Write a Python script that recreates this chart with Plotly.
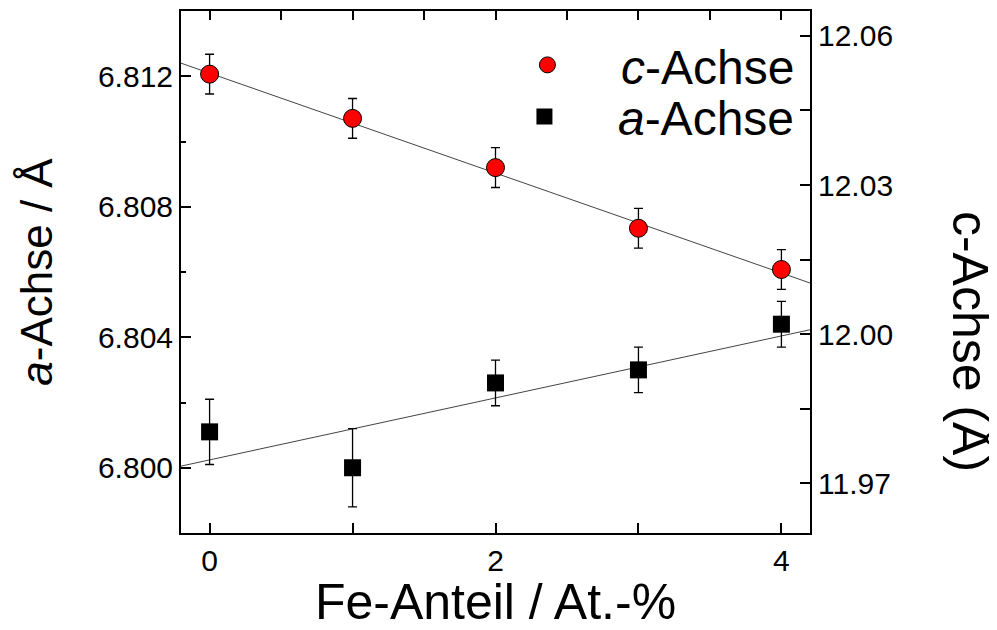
import plotly.graph_objects as go

# ---- data ----
fe_content = [0, 1, 2, 3, 4]
c_axis = [12.0523, 12.0434, 12.0335, 12.0213, 12.0130]
c_err = [0.0040, 0.0040, 0.0040, 0.0040, 0.0040]
a_axis = [6.8011, 6.8000, 6.8026, 6.8030, 6.8044]
a_err = [0.0010, 0.0012, 0.0007, 0.0007, 0.0007]

# linear fits (slope / intercept)
c_fit_intercept, c_fit_slope = 12.0525, -0.01005
a_fit_intercept, a_fit_slope = 6.80024, 0.00095

x_range = [-0.2, 4.2]
a_range = [6.798, 6.814]
c_range = [11.96, 12.065]

FONT = "Liberation Sans, Arial, sans-serif"

fit_x = x_range
c_fit = [c_fit_intercept + c_fit_slope * v for v in fit_x]
a_fit = [a_fit_intercept + a_fit_slope * v for v in fit_x]

fig = go.Figure()

# fit lines
fig.add_trace(go.Scatter(x=fit_x, y=a_fit, mode="lines", yaxis="y",
                         line=dict(color="#444444", width=1), showlegend=False, hoverinfo="skip"))
fig.add_trace(go.Scatter(x=fit_x, y=c_fit, mode="lines", yaxis="y2",
                         line=dict(color="#444444", width=1), showlegend=False, hoverinfo="skip"))

# c-axis (right)
fig.add_trace(go.Scatter(
    x=fe_content, y=c_axis, yaxis="y2", mode="markers", name="<i>c</i>-Achse",
    legend="legend",
    marker=dict(symbol="circle", size=18, color="#ff0000", line=dict(color="black", width=1)),
    error_y=dict(type="data", array=c_err, visible=True, color="black", thickness=1.3, width=4.5),
))
# a-axis (left)
fig.add_trace(go.Scatter(
    x=fe_content, y=a_axis, yaxis="y", mode="markers", name="<i>a</i>-Achse",
    legend="legend2",
    marker=dict(symbol="square", size=17, color="black", line=dict(color="black", width=0)),
    error_y=dict(type="data", array=a_err, visible=True, color="black", thickness=1.3, width=4.5),
))
# dummy trace for top tick axis
fig.add_trace(go.Scatter(x=[None], y=[None], xaxis="x2", yaxis="y", showlegend=False, hoverinfo="skip"))

legend_common = dict(
    xanchor="right", yanchor="top",
    bgcolor="rgba(0,0,0,0)", font=dict(size=48, family=FONT),
    itemwidth=137, tracegroupgap=0,
)

fig.update_layout(
    width=989, height=622,
    margin=dict(l=173, r=187, t=1, b=97),
    paper_bgcolor="white", plot_bgcolor="white",
    font=dict(family=FONT, color="black", size=30),
    xaxis=dict(
        range=x_range, tickvals=[0, 1, 2, 3, 4], ticktext=["0", "", "2", "", "4"],
        ticks="inside", ticklen=10, tickwidth=2, tickcolor="black",
        showline=True, linewidth=2, linecolor="black", mirror=True,
        showgrid=False, zeroline=False,
        tickfont=dict(size=30),
        title=dict(text="Fe-Anteil / At.-%", font=dict(size=50), standoff=14),
    ),
    xaxis2=dict(
        range=x_range, overlaying="x", side="top", anchor="y",
        tick0=0, dtick=0.5, ticks="inside", ticklen=9, tickwidth=2, tickcolor="black",
        showticklabels=False, showgrid=False, zeroline=False, showline=False,
    ),
    yaxis=dict(
        range=a_range, tick0=6.800, dtick=0.004, tickformat=".3f",
        ticks="inside", ticklen=10, tickwidth=2, tickcolor="black",
        minor=dict(dtick=0.002, tick0=6.800, ticks="inside", ticklen=5, tickwidth=2, tickcolor="black"),
        showline=True, linewidth=2, linecolor="black", mirror=True,
        showgrid=False, zeroline=False,
        tickfont=dict(size=30),
        title=dict(text="<i>a</i>-Achse / Å", font=dict(size=44), standoff=32),
    ),
    yaxis2=dict(
        range=c_range, overlaying="y", side="right", anchor="x",
        tickvals=[11.97, 12.00, 12.03, 12.06], tickformat=".2f",
        ticks="inside", ticklen=10, tickwidth=2, tickcolor="black",
        minor=dict(tickvals=[11.985, 12.015, 12.045], ticks="inside", ticklen=10, tickwidth=2, tickcolor="black"),
        showline=True, linewidth=2, linecolor="black",
        showgrid=False, zeroline=False,
        tickfont=dict(size=30),
    ),
    legend=dict(x=0.984, y=0.969, **legend_common),
    legend2=dict(x=0.984, y=0.870, **legend_common),
    annotations=[dict(
        text="c-Achse (Å)", xref="paper", yref="paper", x=1.2544, y=0.368,
        xanchor="center", yanchor="middle", textangle=90, showarrow=False,
        font=dict(size=50, family=FONT),
    )],
)

fig.write_html("out.html")
